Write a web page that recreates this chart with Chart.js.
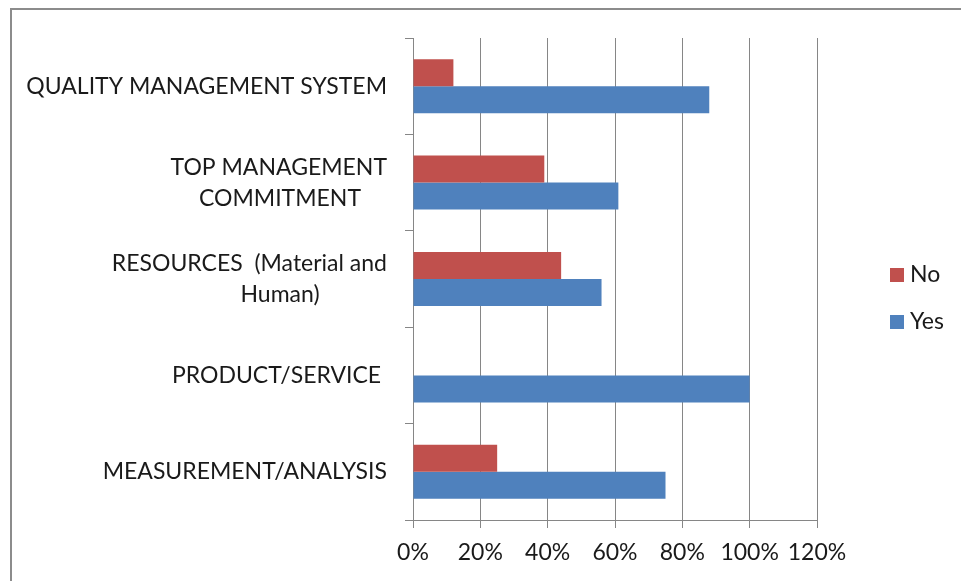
<!DOCTYPE html>
<html>
<head>
<meta charset="utf-8">
<script src="https://cdn.jsdelivr.net/npm/chart.js@4"></script>
<style>
	body { margin: 0; background: #fff; overflow: hidden; }
	#frame { position: absolute; left: 10px; top: 8px; width: 1000px; height: 700px; border: 2px solid #8c8c8c; }
	#wrap { position: absolute; left: 0; top: 0; width: 961px; height: 581px; }
</style>
</head>
<body>
<div id="frame"></div>
<div id="wrap"><canvas id="myChart" width="961" height="581"></canvas></div>
<script>
const categories = [
	['QUALITY MANAGEMENT SYSTEM'],
	['TOP MANAGEMENT', 'COMMITMENT'],
	['RESOURCES  (Material and', 'Human)'],
	['PRODUCT/SERVICE '],
	['MEASUREMENT/ANALYSIS']
];
const noValues = [12, 39, 44, 0, 25];
const yesValues = [88, 61, 56, 100, 75];
const seriesNames = ['No', 'Yes'];
const seriesColors = ['#C0504D', '#4F81BD'];
const xMax = 120;
const xStep = 20;

const fontFamily = 'Lato, "Liberation Sans", sans-serif';
const textColor = '#1a1a1a';
const gridColor = '#868686';

// category labels: first line right aligned, wrapped line centred under it
const labelPlugin = {
	id: 'catLabels',
	afterDraw(chart) {
		const ctx = chart.ctx;
		const y = chart.scales.y;
		const right = chart.chartArea.left - 26;
		ctx.save();
		ctx.font = '23px ' + fontFamily;
		ctx.fillStyle = textColor;
		ctx.textBaseline = 'middle';
		categories.forEach((lines, i) => {
			const cy = y.getPixelForTick(i);
			const lh = 31;
			const top = cy - (lines.length - 1) * lh / 2;
			lines.forEach((txt, k) => {
				if (k == 0) {
					ctx.textAlign = 'right';
					ctx.fillText(txt, right, top);
				} else {
					ctx.textAlign = 'center';
					ctx.fillText(txt, 280, top + k * lh);
				}
			});
		});
		ctx.restore();
	}
};

const legendPlugin = {
	id: 'sideLegend',
	afterDraw(chart) {
		const ctx = chart.ctx;
		const x = chart.chartArea.right + 73;
		const mid = 298.5;
		ctx.save();
		ctx.font = '23px ' + fontFamily;
		ctx.textBaseline = 'middle';
		ctx.textAlign = 'left';
		seriesNames.forEach((name, i) => {
			const cy = mid + (i - 0.5) * 47;
			ctx.fillStyle = seriesColors[i];
			ctx.fillRect(x, cy - 7, 14, 14);
			ctx.fillStyle = textColor;
			ctx.fillText(name, x + 20, cy);
		});
		ctx.restore();
	}
};

var ctx = document.getElementById('myChart').getContext('2d');
new Chart(ctx, {
	type: 'bar',
	data: {
		labels: categories,
		datasets: [{
			label: seriesNames[0],
			data: noValues,
			backgroundColor: seriesColors[0],
			borderWidth: 0,
		}, {
			label: seriesNames[1],
			data: yesValues,
			backgroundColor: seriesColors[1],
			borderWidth: 0,
		}]
	},
	options: {
		indexAxis: 'y',
		responsive: false,
		animation: false,
		categoryPercentage: 0.56,
		barPercentage: 1,
		layout: { padding: { left: 0, top: 38, right: 144, bottom: 0 } },
		plugins: {
			legend: { display: false },
			tooltip: { enabled: false }
		},
		scales: {
			x: {
				min: 0,
				max: xMax,
				ticks: {
					stepSize: xStep,
					callback: v => v + '%',
					font: { family: fontFamily, size: 23 },
					color: textColor,
					padding: 11,
					maxRotation: 0
				},
				grid: { color: gridColor, tickLength: 8 },
				border: { color: gridColor },
				afterFit: s => { s.height = 61; }
			},
			y: {
				ticks: { display: false },
				grid: { color: gridColor, offset: true, drawOnChartArea: false, tickLength: 8 },
				border: { color: gridColor },
				afterFit: s => { s.width = 413; }
			}
		}
	},
	plugins: [labelPlugin, legendPlugin]
});
</script>
</body>
</html>
